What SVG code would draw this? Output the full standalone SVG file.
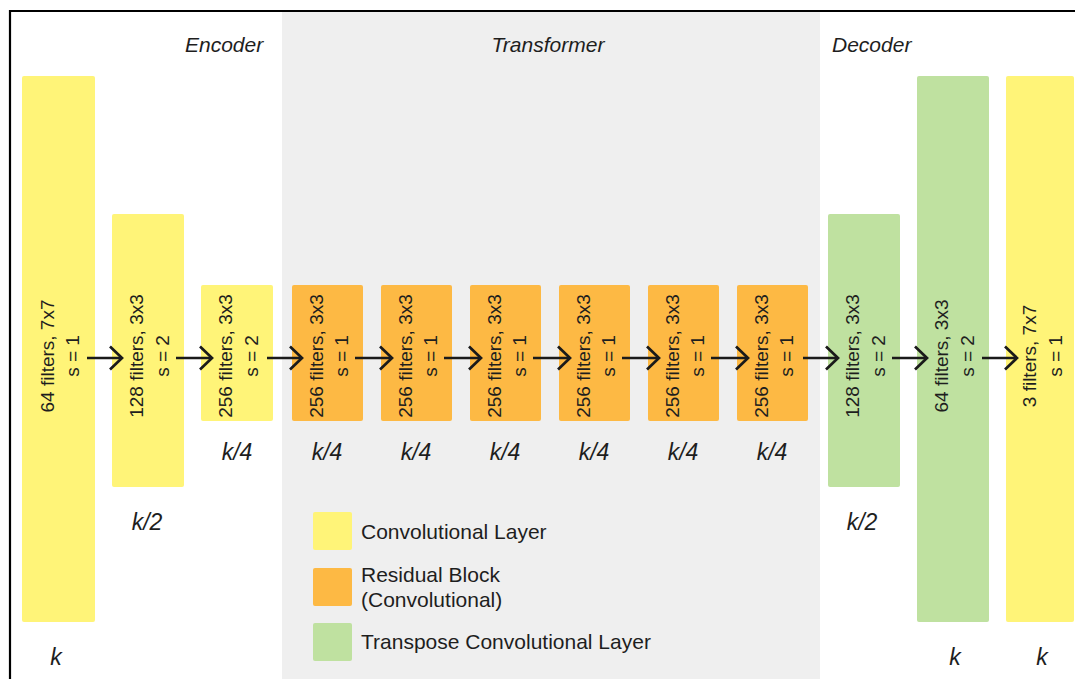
<svg xmlns="http://www.w3.org/2000/svg" width="1075" height="679" viewBox="0 0 1075 679">
<style>
text{font-family:"Liberation Sans",Arial,Helvetica,sans-serif;fill:#1e1e1e}
.lbl{font-size:19px;text-anchor:middle}
.dim{font-size:23px;font-style:italic;text-anchor:middle}
.sec{font-size:21px;font-style:italic}
.leg{font-size:21px}
.conv{fill:#FFF478}
.res{fill:#FDB944}
.tconv{fill:#BFE1A0}
.arr{stroke:#1a1a1a;stroke-width:2.7;fill:none}
</style>
<defs>
<marker id="chev" markerUnits="userSpaceOnUse" markerWidth="18" markerHeight="28" refX="14" refY="14" orient="auto" viewBox="0 0 18 28">
<path d="M2,2.5 L14,14 L2,25.5" fill="none" stroke="#1a1a1a" stroke-width="2.7"/>
</marker>
</defs>
<rect x="0" y="0" width="1075" height="679" fill="#ffffff"/>
<rect id="transformer-band" x="282" y="12" width="538" height="667" fill="#EFEFEF"/>
<path d="M10,679 V11 H1075" fill="none" stroke="#000" stroke-width="2.2"/>
<text class="sec" x="185" y="52">Encoder</text>
<text class="sec" x="548" y="52" text-anchor="middle">Transformer</text>
<text class="sec" x="832" y="52">Decoder</text>

<g id="enc1"><rect class="conv" x="22" y="76" width="73" height="546" rx="2"/>
<text class="lbl" transform="translate(58.5,356) rotate(-90)"><tspan x="0" y="-5">64 filters, 7x7</tspan><tspan x="0" y="20.5">s = 1</tspan></text>
<text class="dim" x="56" y="665">k</text></g>

<g id="enc2"><rect class="conv" x="112" y="214" width="72" height="273" rx="2"/>
<text class="lbl" transform="translate(148,356) rotate(-90)"><tspan x="0" y="-5">128 filters, 3x3</tspan><tspan x="0" y="20.5">s = 2</tspan></text>
<text class="dim" x="147" y="530">k/2</text></g>

<g id="enc3"><rect class="conv" x="201" y="285" width="72" height="136" rx="2"/>
<text class="lbl" transform="translate(237,356) rotate(-90)"><tspan x="0" y="-5">256 filters, 3x3</tspan><tspan x="0" y="20.5">s = 2</tspan></text>
<text class="dim" x="237" y="460">k/4</text></g>

<g id="res1"><rect class="res" x="292" y="285" width="71" height="136" rx="2"/>
<text class="lbl" transform="translate(327.5,356) rotate(-90)"><tspan x="0" y="-5">256 filters, 3x3</tspan><tspan x="0" y="20.5">s = 1</tspan></text>
<text class="dim" x="327" y="460">k/4</text></g>

<g id="res2"><rect class="res" x="381" y="285" width="71" height="136" rx="2"/>
<text class="lbl" transform="translate(416.5,356) rotate(-90)"><tspan x="0" y="-5">256 filters, 3x3</tspan><tspan x="0" y="20.5">s = 1</tspan></text>
<text class="dim" x="416" y="460">k/4</text></g>

<g id="res3"><rect class="res" x="470" y="285" width="71" height="136" rx="2"/>
<text class="lbl" transform="translate(505.5,356) rotate(-90)"><tspan x="0" y="-5">256 filters, 3x3</tspan><tspan x="0" y="20.5">s = 1</tspan></text>
<text class="dim" x="505" y="460">k/4</text></g>

<g id="res4"><rect class="res" x="559" y="285" width="71" height="136" rx="2"/>
<text class="lbl" transform="translate(594.5,356) rotate(-90)"><tspan x="0" y="-5">256 filters, 3x3</tspan><tspan x="0" y="20.5">s = 1</tspan></text>
<text class="dim" x="594" y="460">k/4</text></g>

<g id="res5"><rect class="res" x="648" y="285" width="71" height="136" rx="2"/>
<text class="lbl" transform="translate(683.5,356) rotate(-90)"><tspan x="0" y="-5">256 filters, 3x3</tspan><tspan x="0" y="20.5">s = 1</tspan></text>
<text class="dim" x="683" y="460">k/4</text></g>

<g id="res6"><rect class="res" x="737" y="285" width="71" height="136" rx="2"/>
<text class="lbl" transform="translate(772.5,356) rotate(-90)"><tspan x="0" y="-5">256 filters, 3x3</tspan><tspan x="0" y="20.5">s = 1</tspan></text>
<text class="dim" x="772" y="460">k/4</text></g>

<g id="dec1"><rect class="tconv" x="828" y="214" width="72" height="273" rx="2"/>
<text class="lbl" transform="translate(864,356) rotate(-90)"><tspan x="0" y="-5">128 filters, 3x3</tspan><tspan x="0" y="20.5">s = 2</tspan></text>
<text class="dim" x="862" y="530">k/2</text></g>

<g id="dec2"><rect class="tconv" x="917" y="76" width="72" height="546" rx="2"/>
<text class="lbl" transform="translate(953,356) rotate(-90)"><tspan x="0" y="-5">64 filters, 3x3</tspan><tspan x="0" y="20.5">s = 2</tspan></text>
<text class="dim" x="955" y="665">k</text></g>

<g id="out"><rect class="conv" x="1006" y="76" width="68" height="546" rx="2"/>
<text class="lbl" transform="translate(1041,356) rotate(-90)"><tspan x="0" y="-5">3 filters, 7x7</tspan><tspan x="0" y="20.5">s = 1</tspan></text>
<text class="dim" x="1042" y="665">k</text></g>

<g id="connectors">
<line class="arr" x1="87" y1="358" x2="122" y2="358" marker-end="url(#chev)"/>
<line class="arr" x1="176" y1="358" x2="212" y2="358" marker-end="url(#chev)"/>
<line class="arr" x1="267" y1="358" x2="302" y2="358" marker-end="url(#chev)"/>
<line class="arr" x1="355" y1="358" x2="392" y2="358" marker-end="url(#chev)"/>
<line class="arr" x1="444" y1="358" x2="481" y2="358" marker-end="url(#chev)"/>
<line class="arr" x1="533" y1="358" x2="570" y2="358" marker-end="url(#chev)"/>
<line class="arr" x1="622" y1="358" x2="659" y2="358" marker-end="url(#chev)"/>
<line class="arr" x1="711" y1="358" x2="748" y2="358" marker-end="url(#chev)"/>
<line class="arr" x1="803" y1="358" x2="838" y2="358" marker-end="url(#chev)"/>
<line class="arr" x1="892" y1="358" x2="927" y2="358" marker-end="url(#chev)"/>
<line class="arr" x1="982" y1="358" x2="1017" y2="358" marker-end="url(#chev)"/>
</g>

<g id="legend">
<rect class="conv" x="313" y="512" width="39" height="38" rx="2"/>
<text class="leg" x="361" y="539">Convolutional Layer</text>
<rect class="res" x="313" y="568" width="39" height="38" rx="2"/>
<text class="leg" x="361" y="582">Residual Block</text>
<text class="leg" x="361" y="607">(Convolutional)</text>
<rect class="tconv" x="313" y="623" width="39" height="38" rx="2"/>
<text class="leg" x="361" y="649">Transpose Convolutional Layer</text>
</g>
</svg>
